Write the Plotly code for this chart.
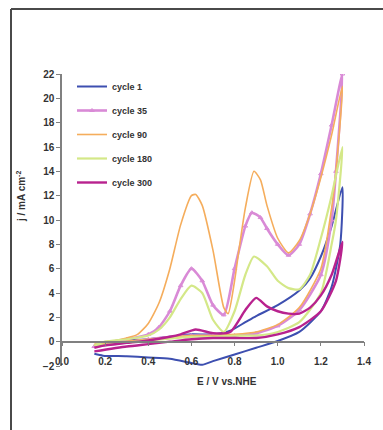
import plotly.graph_objects as go

# ---------------- data ----------------
series_names = ["cycle 1", "cycle 35", "cycle 90", "cycle 180", "cycle 300"]

# cycle 1 : anodic sweep then cathodic sweep
c1_E = [0.15, 0.2, 0.3, 0.4, 0.5, 0.6, 0.7, 0.78, 0.85, 0.9, 1.0, 1.1, 1.15, 1.2, 1.25, 1.3,
        1.29, 1.25, 1.2, 1.1, 1.0, 0.9, 0.8, 0.7, 0.65, 0.6, 0.5, 0.4, 0.3, 0.19, 0.15]
c1_j = [-0.3, -0.1, 0.1, 0.2, 0.4, 0.6, 0.6, 0.9, 1.6, 2.1, 3.0, 4.2, 5.2, 7.0, 9.5, 12.7,
        8.0, 4.5, 2.5, 0.8, 0.05, -0.5, -1.05, -1.6, -1.9, -1.75, -1.4, -1.3, -1.2, -1.15, -1.0]

# cycle 35
c35_E = [0.15, 0.2, 0.3, 0.4, 0.45, 0.5, 0.55, 0.6, 0.65, 0.7, 0.75, 0.8, 0.85, 0.88, 0.92, 0.95,
         1.0, 1.05, 1.1, 1.15, 1.2, 1.25, 1.3,
         1.27, 1.25, 1.2, 1.1, 1.0, 0.9, 0.8, 0.7, 0.6, 0.4, 0.15]
c35_j = [-0.4, -0.1, 0.2, 0.6, 1.2, 2.5, 4.6, 6.0, 5.0, 3.0, 2.2, 6.0, 9.5, 10.6, 10.2, 9.3,
         8.0, 7.1, 8.0, 10.5, 13.8, 17.8, 22.0,
         14.0, 10.0, 5.5, 2.6, 1.3, 0.7, 0.5, 0.5, 0.5, 0.2, -0.4]

# cycle 90
c90_E = [0.15, 0.2, 0.25, 0.3, 0.35, 0.4, 0.45, 0.5, 0.55, 0.6, 0.62, 0.65, 0.7, 0.75, 0.77,
         0.8, 0.82, 0.85, 0.89, 0.92, 0.95, 1.0, 1.05, 1.1, 1.15, 1.2, 1.25, 1.3,
         1.27, 1.25, 1.2, 1.1, 1.0, 0.9, 0.8, 0.7, 0.6, 0.4, 0.15]
c90_j = [-0.3, 0.0, 0.1, 0.3, 0.6, 1.5, 3.2, 6.0, 9.6, 12.0, 12.1, 11.2, 7.5, 2.8, 2.3,
         5.0, 7.5, 11.0, 14.0, 13.3, 11.2, 8.5, 7.3, 8.3, 10.5, 13.5, 17.0, 21.0,
         14.0, 11.0, 6.0, 2.8, 1.4, 0.8, 0.6, 0.5, 0.5, 0.2, -0.2]

# cycle 180
c180_E = [0.15, 0.2, 0.3, 0.4, 0.45, 0.5, 0.55, 0.6, 0.65, 0.7, 0.75, 0.8, 0.85, 0.89, 0.95,
          1.0, 1.05, 1.1, 1.15, 1.2, 1.25, 1.3,
          1.27, 1.25, 1.2, 1.1, 1.0, 0.9, 0.8, 0.7, 0.6, 0.4, 0.15]
c180_j = [-0.3, 0.0, 0.2, 0.5, 1.0, 2.0, 3.5, 4.6, 4.0, 1.8, 0.8, 2.5, 5.5, 7.0, 6.2,
          5.0, 4.4, 4.3, 5.5, 8.5, 12.0, 16.0,
          10.0, 8.0, 4.0, 1.6, 0.8, 0.5, 0.5, 0.4, 0.4, 0.1, -0.3]

# cycle 300
c300_E = [0.15, 0.2, 0.3, 0.4, 0.5, 0.55, 0.62, 0.7, 0.78, 0.85, 0.9, 0.95, 1.0, 1.05, 1.1,
          1.15, 1.2, 1.25, 1.3,
          1.27, 1.2, 1.1, 1.0, 0.9, 0.8, 0.7, 0.6, 0.5, 0.4, 0.3, 0.15]
c300_j = [-0.5, -0.3, -0.1, 0.1, 0.4, 0.6, 1.0, 0.7, 0.8, 2.6, 3.6, 2.9, 2.5, 2.3, 2.3,
          2.8, 3.8, 5.5, 8.2,
          5.0, 2.5, 1.2, 0.6, 0.3, 0.3, 0.3, 0.2, 0.0, -0.2, -0.4, -0.8]

x_ticks = [0.0, 0.2, 0.4, 0.6, 0.8, 1.0, 1.2, 1.4]
x_tick_labels = ["0.0", "0.2", "0.4", "0.6", "0.8", "1.0", "1.2", "1.4"]
y_ticks = list(range(-2, 23, 2))

# ---------------- styles ----------------
styles = {
    "cycle 1":   dict(color="#3d4fb0", width=2.0, marker=None),
    "cycle 35":  dict(color="#d98ad6", width=2.6, marker="triangle-up-open"),
    "cycle 90":  dict(color="#f5ad5c", width=1.6, marker=None),
    "cycle 180": dict(color="#d4e888", width=2.2, marker=None),
    "cycle 300": dict(color="#b8228e", width=2.4, marker=None),
}
series = {
    "cycle 1": (c1_E, c1_j),
    "cycle 35": (c35_E, c35_j),
    "cycle 90": (c90_E, c90_j),
    "cycle 180": (c180_E, c180_j),
    "cycle 300": (c300_E, c300_j),
}

fig = go.Figure()
for name in series_names:
    E, j = series[name]
    st = styles[name]
    kw = dict(x=E, y=j, name=name, legendgroup=name,
              line=dict(color=st["color"], width=st["width"], shape="spline", smoothing=0.6))
    if st["marker"]:
        kw["mode"] = "lines+markers"
        kw["marker"] = dict(symbol=st["marker"], size=4, color=st["color"])
    else:
        kw["mode"] = "lines"
    fig.add_trace(go.Scatter(**kw))

L, R, T, B = 62, 19, 74, 64
W, H = 383, 430
pw, ph = W - L - R, H - T - B

def px_x(p):
    return (p - L) / pw

def px_y(p):
    return (H - B - p) / ph

fig.update_layout(
    width=W, height=H,
    margin=dict(l=L, r=R, t=T, b=B),
    paper_bgcolor="white", plot_bgcolor="white",
    font=dict(family="Liberation Sans, Arial, sans-serif", color="#333333"),
    showlegend=True,
    legend=dict(x=px_x(72), y=px_y(72), xanchor="left", yanchor="top",
                bgcolor="rgba(0,0,0,0)", font=dict(size=9, color="#333333", weight="bold"),
                tracegroupgap=5, traceorder="grouped", itemwidth=30),
    xaxis=dict(range=[0, 1.4], anchor="free", position=2 / 24,
               tickvals=x_ticks, ticktext=x_tick_labels,
               showline=True, linecolor="#808080", linewidth=1.5,
               ticks="outside", ticklen=4, tickcolor="#808080",
               ticklabelstandoff=7,
               tickfont=dict(size=10, color="#333333", weight="bold"),
               showgrid=False, zeroline=False),
    yaxis=dict(range=[-2, 22], tickvals=y_ticks,
               showline=True, linecolor="#808080", linewidth=1.5,
               ticks="outside", ticklen=4, tickcolor="#808080",
               tickfont=dict(size=10, color="#333333", weight="bold"),
               showgrid=False, zeroline=False),
    annotations=[
        dict(text="j / mA cm<sup>-2</sup>", xref="paper", yref="paper",
             x=px_x(21), y=px_y(197), textangle=-90, showarrow=False,
             xanchor="center", yanchor="middle",
             font=dict(size=10, color="#333333", weight="bold")),
        dict(text="E / V vs.NHE", xref="paper", yref="paper",
             x=px_x(227), y=px_y(381), showarrow=False,
             xanchor="center", yanchor="middle",
             font=dict(size=10, color="#333333", weight="bold")),
    ],
    shapes=[
        dict(type="line", xref="paper", yref="paper",
             x0=px_x(11), x1=px_x(400), y0=px_y(9), y1=px_y(9),
             line=dict(color="#4a4a4a", width=2)),
        dict(type="line", xref="paper", yref="paper",
             x0=px_x(11), x1=px_x(11), y0=px_y(9), y1=px_y(440),
             line=dict(color="#4a4a4a", width=2)),
    ],
)

fig.write_html(
    "out.html",
    config={"displayModeBar": False},
    post_script="document.body.style.margin='0';document.body.style.overflow='hidden';",
)
